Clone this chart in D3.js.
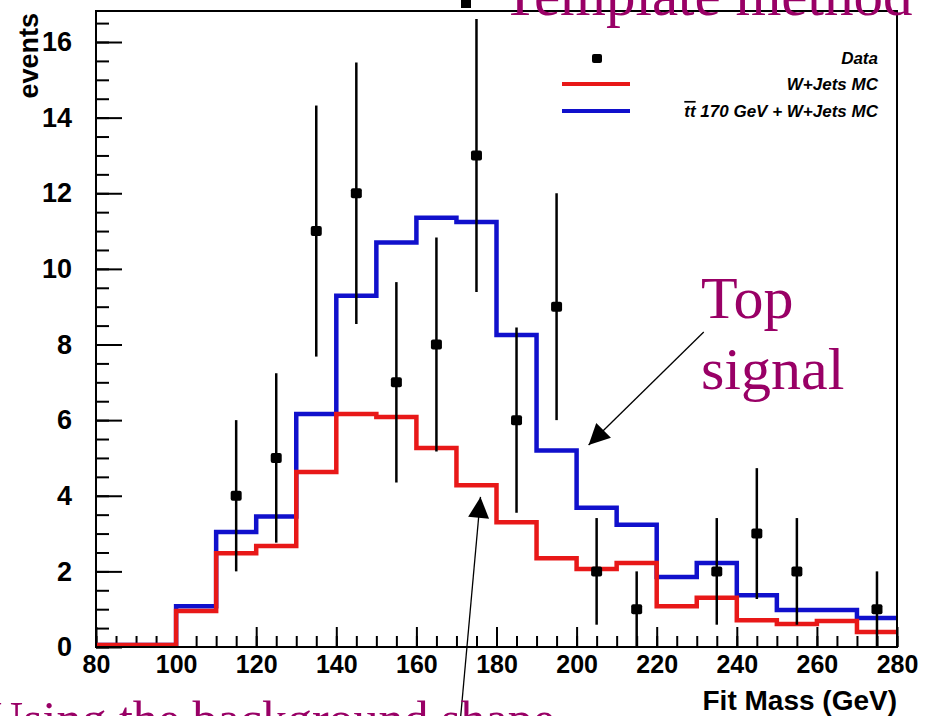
<!DOCTYPE html>
<html>
<head>
<meta charset="utf-8">
<script src="https://cdn.jsdelivr.net/npm/d3@7"></script>
<style>
  body { margin: 0; background: #fff; }
  text { font-family: "Liberation Sans", Arial, sans-serif; }
  .serif { font-family: "Liberation Serif", "Times New Roman", serif; fill: #990066; }
</style>
</head>
<body>
<svg id="chart" width="939" height="716"></svg>
<script>
// bins of 10 GeV from 80 to 280
var binLow = [80, 90, 100, 110, 120, 130, 140, 150, 160, 170, 180, 190, 200, 210, 220, 230, 240, 250, 260, 270];
var wjetsMC = [0.05, 0.05, 0.95, 2.48, 2.67, 4.63, 6.16, 6.08, 5.26, 4.28, 3.3, 2.35, 2.06, 2.22, 1.08, 1.3, 0.71, 0.61, 0.69, 0.4];
var ttbarPlusWjets = [0.05, 0.05, 1.08, 3.04, 3.45, 6.16, 9.29, 10.7, 11.35, 11.24, 8.25, 5.2, 3.68, 3.23, 1.85, 2.22, 1.37, 0.98, 0.98, 0.77];

var dataMass = [115, 125, 135, 145, 155, 165, 175, 185, 195, 205, 215, 235, 245, 255, 275];
var dataCounts = [4, 5, 11, 12, 7, 8, 13, 6, 9, 2, 1, 2, 3, 2, 1];
var dataErr = [2, 2.24, 3.32, 3.46, 2.65, 2.83, 3.61, 2.45, 3, 1.41, 1, 1.41, 1.73, 1.41, 1];

var xTickLabels = [80, 100, 120, 140, 160, 180, 200, 220, 240, 260, 280];
var yTickLabels = [0, 2, 4, 6, 8, 10, 12, 14, 16];

var legendLabels = ["Data", "W+Jets MC", "170 GeV + W+Jets MC"];

var svg = d3.select("#chart"),
    margin = {top: 11, right: 42, bottom: 69, left: 96},
    width = +svg.attr("width"),
    height = +svg.attr("height"),
    domainwidth = width - margin.left - margin.right,
    domainheight = height - margin.top - margin.bottom;

var red = "#e81818", blue = "#1010cc";

var x = d3.scaleLinear().domain([80, 280]).range([0, domainwidth]);
var y = d3.scaleLinear().domain([0, 16.82]).range([domainheight, 0]);

var g = svg.append("g")
    .attr("transform", "translate(" + margin.left + "," + margin.top + ")");

// minor ticks
g.append("g")
    .call(d3.axisLeft(y).tickValues(d3.range(0, 16.6, 0.5)).tickSize(-13).tickFormat(""))
    .call(function (a) { a.select(".domain").remove(); });
g.append("g")
    .attr("transform", "translate(0," + domainheight + ")")
    .call(d3.axisBottom(x).tickValues(d3.range(80, 281, 5)).tickSize(-11).tickFormat(""))
    .call(function (a) { a.select(".domain").remove(); });

// major ticks + labels
var yAxis = g.append("g")
    .call(d3.axisLeft(y).tickValues(yTickLabels).tickSize(-26).tickPadding(24));
yAxis.select(".domain").remove();
yAxis.selectAll("text")
    .style("font-size", "27px").style("font-weight", "bold").attr("fill", "#000");

var xAxis = g.append("g")
    .attr("transform", "translate(0," + domainheight + ")")
    .call(d3.axisBottom(x).tickValues(xTickLabels).tickSize(-20).tickPadding(8));
xAxis.select(".domain").remove();
xAxis.selectAll("text")
    .style("font-size", "25px").style("font-weight", "bold").attr("fill", "#000");

g.selectAll(".tick line").attr("stroke", "#000").attr("stroke-width", 2);

// histograms
var step = d3.line()
    .x(function (d) { return x(d[0]); })
    .y(function (d) { return y(d[1]); })
    .curve(d3.curveStepAfter);

function histPoints(vals) {
    var pts = binLow.map(function (b, i) { return [b, vals[i]]; });
    pts.push([280, vals[vals.length - 1]]);
    return pts;
}

g.append("path")
    .attr("d", step(histPoints(ttbarPlusWjets)))
    .attr("fill", "none").attr("stroke", blue).attr("stroke-width", 4.5);
g.append("path")
    .attr("d", step(histPoints(wjetsMC)))
    .attr("fill", "none").attr("stroke", red).attr("stroke-width", 4.5);

// data points with errors
var pts = dataMass.map(function (m, i) { return {m: m, n: dataCounts[i], e: dataErr[i]}; });

g.selectAll(".err")
    .data(pts)
    .enter().append("line")
    .attr("class", "err")
    .attr("x1", function (d) { return x(d.m); })
    .attr("x2", function (d) { return x(d.m); })
    .attr("y1", function (d) { return y(Math.min(d.n + d.e, 16.82)); })
    .attr("y2", function (d) { return y(Math.max(d.n - d.e, 0)); })
    .attr("stroke", "#000").attr("stroke-width", 2.5);

g.selectAll(".dot")
    .data(pts)
    .enter().append("rect")
    .attr("class", "dot")
    .attr("x", function (d) { return x(d.m) - 5.5; })
    .attr("y", function (d) { return y(d.n) - 5; })
    .attr("width", 11).attr("height", 10).attr("rx", 2)
    .attr("fill", "#000");

// frame
g.append("rect")
    .attr("width", domainwidth).attr("height", domainheight)
    .attr("fill", "none").attr("stroke", "#000").attr("stroke-width", 2);

// axis titles
svg.append("text")
    .attr("transform", "translate(38,13) rotate(-90)")
    .attr("text-anchor", "end")
    .style("font-size", "27px").style("font-weight", "bold")
    .text("events");

svg.append("text")
    .attr("x", margin.left + domainwidth).attr("y", 710)
    .attr("text-anchor", "end")
    .style("font-size", "28px").style("font-weight", "bold")
    .text("Fit Mass (GeV)");

// legend
var leg = svg.append("g");
leg.append("rect").attr("x", 592).attr("y", 54).attr("width", 10).attr("height", 9).attr("rx", 2).attr("fill", "#000");
leg.append("line").attr("x1", 562).attr("x2", 630).attr("y1", 84).attr("y2", 84).attr("stroke", red).attr("stroke-width", 4);
leg.append("line").attr("x1", 562).attr("x2", 630).attr("y1", 111).attr("y2", 111).attr("stroke", blue).attr("stroke-width", 4);
[58, 84, 111].forEach(function (ly, i) {
    var t = leg.append("text")
        .attr("x", 878).attr("y", ly).attr("dy", "0.35em")
        .attr("text-anchor", "end")
        .style("font-size", "17px").style("font-weight", "bold").style("font-style", "italic");
    if (i == 2) {
        t.append("tspan").style("text-decoration", "overline").text("tt");
        t.append("tspan").text(" " + legendLabels[i]);
    } else {
        t.text(legendLabels[i]);
    }
});

// slide annotations
svg.append("rect").attr("x", 461).attr("y", -3).attr("width", 10).attr("height", 11).attr("fill", "#000");
svg.append("text").attr("class", "serif").attr("x", 502).attr("y", 15)
    .style("font-size", "59px").text("Template method");
svg.append("text").attr("class", "serif").attr("x", 701).attr("y", 318)
    .style("font-size", "60px").text("Top");
svg.append("text").attr("class", "serif").attr("x", 701).attr("y", 389)
    .style("font-size", "60px").text("signal");
svg.append("text").attr("class", "serif").attr("x", -13).attr("y", 736)
    .style("font-size", "50px").text("Using the background shape");

svg.append("defs").append("marker")
    .attr("id", "head").attr("viewBox", "0 0 10 10")
    .attr("refX", 10).attr("refY", 5)
    .attr("markerWidth", 28).attr("markerHeight", 21)
    .attr("markerUnits", "userSpaceOnUse")
    .attr("orient", "auto")
    .append("path").attr("d", "M0,0L10,5L0,10Z").attr("fill", "#000");

// arrows in data coordinates: [tailX, tailY, tipX, tipY]
var arrows = [[231.75, 8.33, 203, 5.34], [171, -1.9, 176, 3.97]];
g.selectAll(".arrow")
    .data(arrows)
    .enter().append("line")
    .attr("class", "arrow")
    .attr("x1", function (d) { return x(d[0]); })
    .attr("y1", function (d) { return y(d[1]); })
    .attr("x2", function (d) { return x(d[2]); })
    .attr("y2", function (d) { return y(d[3]); })
    .attr("stroke", "#000").attr("stroke-width", 1.3)
    .attr("marker-end", "url(#head)");
</script>
</body>
</html>
